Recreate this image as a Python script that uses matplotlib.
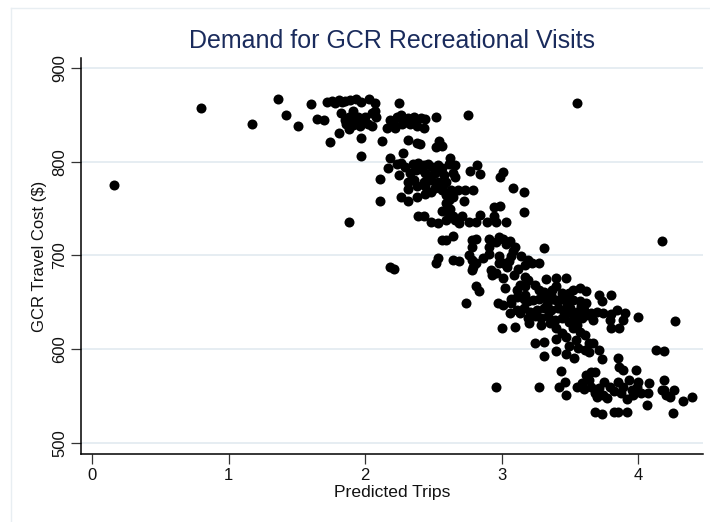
import matplotlib
matplotlib.use("Agg")
import matplotlib.pyplot as plt
from matplotlib.lines import Line2D

plt.rcParams['font.family'] = ['Liberation Sans', 'DejaVu Sans']

title = "Demand for GCR Recreational Visits"
x_label = "Predicted Trips"
y_label = "GCR Travel Cost ($)"
x_ticks = [0, 1, 2, 3, 4]
y_ticks = [500, 600, 700, 800, 900]

# Predicted trips (x) and travel cost (y)
points = [
    # outliers / sparse left part
    (0.16, 775), (0.80, 858), (1.17, 841), (1.36, 867), (1.42, 850), (1.51, 838),
    (1.60, 862), (1.65, 846), (1.70, 845), (1.74, 821), (1.88, 736), (1.97, 806),
    (1.97, 825), (3.55, 863), (2.75, 850), (4.17, 715), (4.27, 630), (2.96, 560),
    (3.27, 560), (2.18, 688), (2.21, 686), (2.74, 649), (4.39, 549), (4.33, 544),
    (4.25, 532), (4.19, 556), (4.26, 556), (4.13, 599), (4.19, 598), (4.00, 634),
    # top cluster
    (1.72, 864), (1.76, 865), (1.81, 866), (1.85, 865), (1.89, 866), (1.93, 867),
    (1.97, 864), (2.03, 867), (2.07, 863), (2.25, 863), (1.78, 863), (1.83, 864),
    (1.82, 852), (1.88, 848), (1.91, 854), (1.95, 848), (2.00, 848), (2.05, 852),
    (2.07, 854), (2.08, 848), (1.86, 841), (1.91, 839), (1.96, 838), (2.02, 840),
    (2.05, 838), (1.88, 835), (1.81, 831), (1.85, 845), (1.98, 843), (1.92, 846),
    (2.18, 845), (2.23, 848), (2.26, 850), (2.31, 847), (2.36, 848), (2.41, 847),
    (2.44, 846), (2.21, 839), (2.27, 840), (2.33, 840), (2.38, 838), (2.43, 836),
    (2.16, 836), (2.22, 836), (2.52, 848), (2.12, 822), (2.31, 823), (2.38, 820),
    (2.40, 819), (2.52, 816), (2.54, 822), (2.56, 817), (2.29, 843), (2.35, 844),
    # 780-810 band
    (2.18, 804), (2.28, 810), (2.17, 793), (2.23, 798), (2.26, 799), (2.29, 795),
    (2.33, 788), (2.25, 786), (2.35, 798), (2.39, 799), (2.43, 797), (2.46, 798),
    (2.49, 795), (2.53, 797), (2.56, 793), (2.61, 798), (2.66, 797), (2.62, 804),
    (2.37, 791), (2.44, 788), (2.51, 788), (2.58, 786), (2.64, 788), (2.36, 781),
    (2.43, 779), (2.48, 781), (2.53, 779), (2.59, 778), (2.66, 784), (2.77, 790),
    (2.82, 797), (2.84, 787), (2.99, 784), (3.01, 789), (2.11, 782), (2.31, 779),
    (2.34, 781), (2.41, 792), (2.47, 785), (2.55, 790),
    # 750-780 band
    (2.31, 771), (2.38, 774), (2.44, 774), (2.51, 772), (2.56, 770), (2.63, 770),
    (2.68, 770), (2.73, 770), (2.79, 770), (2.38, 763), (2.44, 766), (2.48, 768),
    (2.59, 765), (2.64, 763), (2.26, 763), (2.31, 758), (2.11, 758), (2.72, 758),
    (3.08, 772), (3.16, 768), (2.59, 756), (2.62, 750), (2.61, 759), (2.57, 775),
    # 720-750 band
    (2.39, 742), (2.43, 742), (2.48, 736), (2.53, 735), (2.56, 747), (2.61, 745),
    (2.64, 742), (2.59, 738), (2.66, 738), (2.71, 742), (2.76, 736), (2.81, 736),
    (2.84, 743), (2.89, 736), (2.94, 742), (2.94, 752), (2.99, 753), (3.03, 736),
    (3.16, 746), (2.96, 736), (2.56, 717), (2.59, 717), (2.64, 721), (2.78, 717),
    (2.81, 718), (2.91, 718), (2.98, 720), (3.01, 718), (3.06, 716), (2.69, 735),
    # 690-720 band
    (2.78, 709), (2.91, 709), (2.96, 714), (3.10, 709), (3.31, 708), (2.64, 695),
    (2.69, 694), (2.76, 700), (2.78, 695), (2.81, 692), (2.86, 697), (2.91, 702),
    (2.98, 699), (2.98, 692), (3.01, 692), (3.07, 699), (3.14, 699), (3.19, 695),
    (3.27, 692), (3.22, 692), (2.53, 697), (2.52, 692), (2.79, 688), (3.04, 688),
    (3.12, 686), (3.05, 694), (3.17, 690), (3.03, 712), (3.08, 705),
    # 660-690 band
    (2.78, 684), (2.92, 684), (2.96, 681), (3.01, 676), (3.09, 679), (3.17, 677),
    (3.19, 674), (3.32, 675), (3.40, 676), (3.47, 676), (2.93, 679), (3.13, 668),
    (3.17, 667), (2.81, 667), (2.83, 662), (3.02, 665), (3.27, 663), (3.31, 661),
    (3.37, 663), (3.49, 660), (3.52, 663), (3.57, 665), (3.62, 662), (3.44, 660),
    (3.36, 658), (3.71, 658), (3.11, 663), (3.17, 658), (3.24, 668), (3.40, 667),
    # 620-660 dense band
    (2.97, 649), (3.01, 647), (3.07, 654), (3.11, 656), (3.16, 654), (3.19, 651),
    (3.23, 652), (3.27, 654), (3.32, 656), (3.37, 654), (3.42, 652), (3.47, 651),
    (3.52, 652), (3.57, 651), (3.62, 649), (3.73, 651), (3.06, 639), (3.11, 642),
    (3.16, 644), (3.21, 640), (3.26, 642), (3.31, 644), (3.36, 642), (3.41, 644),
    (3.45, 642), (3.50, 644), (3.55, 640), (3.60, 642), (3.65, 639), (3.70, 640),
    (3.74, 639), (3.19, 633), (3.24, 635), (3.29, 633), (3.34, 635), (3.39, 631),
    (3.44, 633), (3.49, 629), (3.54, 631), (3.59, 633), (3.67, 631), (3.20, 628),
    (3.29, 626), (3.40, 622), (3.52, 622), (3.55, 626), (3.00, 622), (3.10, 624),
    (3.80, 637), (3.84, 642), (3.90, 639), (3.79, 631), (3.89, 631), (3.80, 622),
    (3.86, 622), (3.80, 658), (3.40, 652), (3.07, 649), (3.13, 639), (3.33, 648),
    (3.46, 637), (3.58, 646), (3.63, 636), (3.35, 628), (3.48, 646), (3.52, 636),
    # 590-620 band
    (3.24, 606), (3.31, 608), (3.40, 611), (3.47, 613), (3.54, 610), (3.61, 615),
    (3.64, 606), (3.67, 607), (3.49, 603), (3.56, 601), (3.61, 599), (3.40, 598),
    (3.47, 595), (3.53, 590), (3.31, 593), (3.64, 597), (3.71, 599), (3.73, 589),
    (3.85, 590), (3.86, 581), (3.89, 578), (3.98, 578), (3.44, 617), (3.57, 618),
    # 530-590 band
    (3.43, 577), (3.42, 560), (3.46, 565), (3.47, 551), (3.55, 560), (3.59, 564),
    (3.62, 572), (3.65, 575), (3.68, 575), (3.64, 567), (3.65, 560), (3.68, 553),
    (3.70, 549), (3.74, 551), (3.75, 565), (3.79, 560), (3.82, 555), (3.85, 565),
    (3.89, 560), (3.93, 567), (3.95, 556), (4.00, 565), (4.02, 553), (4.07, 553),
    (4.08, 564), (3.92, 547), (3.96, 551), (4.06, 540), (3.68, 533), (3.73, 531),
    (3.82, 533), (3.85, 533), (3.92, 533), (4.19, 567), (4.17, 556), (4.20, 551),
    (4.23, 549), (3.71, 558), (3.77, 548), (3.87, 553), (3.99, 559), (3.60, 557),
]

xs = [p[0] for p in points]
ys = [p[1] for p in points]

fig = plt.figure(figsize=(7.10, 5.22), dpi=100)
fig.patch.set_facecolor('white')
ax = fig.add_axes([81/710, 1 - 454/522, (703 - 81)/710, (454 - 58)/522])

ax.scatter(xs, ys, s=52, c='black', linewidths=0, zorder=3)

ax.set_xlim(-0.0805, 4.473)
ax.set_ylim(487.9, 911)
ax.set_xticks(x_ticks)
ax.set_yticks(y_ticks)
ax.set_xticklabels([str(t) for t in x_ticks], fontsize=12)
ax.set_yticklabels([str(t) for t in y_ticks], fontsize=12, rotation=90, va='center')
ax.tick_params(axis='both', length=7, width=0.9, color='#333333', pad=3, labelcolor='#111111')

ax.grid(axis='y', color='#e6edf2', linewidth=1.4, zorder=0)
ax.grid(axis='x', visible=False)
ax.set_axisbelow(True)

for side in ['top', 'right']:
    ax.spines[side].set_visible(False)
for side in ['left', 'bottom']:
    ax.spines[side].set_linewidth(1.1)
    ax.spines[side].set_color('black')

fig.text(392/710, 1 - 40.5/522, title, ha='center', va='center', fontsize=18, color='#1a2b5c')
fig.text(392/710, 1 - 493/522, x_label, ha='center', va='center', fontsize=12.6, color='#111111')
fig.text(40/710, 1 - 256/522, y_label, ha='center', va='center', fontsize=12, rotation=90, color='#111111')

# faint outer graph-region border
fig.add_artist(Line2D([11/710, 11/710], [0, 1 - 8/522], transform=fig.transFigure, color='#e8eef2', lw=1.0))
fig.add_artist(Line2D([11/710, 1], [1 - 8/522, 1 - 8/522], transform=fig.transFigure, color='#e8eef2', lw=1.0))

fig.savefig('out.png', dpi=100)
